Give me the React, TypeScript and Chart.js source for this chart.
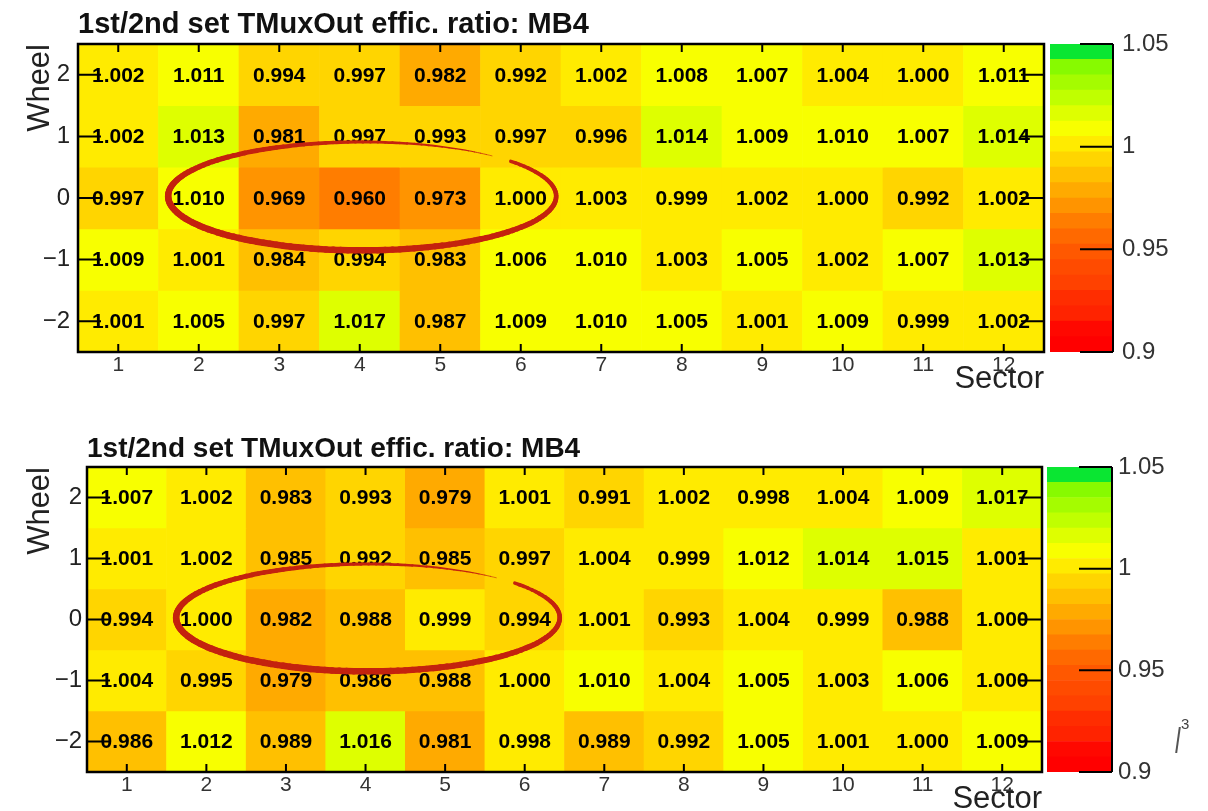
import React, { useEffect, useRef } from 'react';
import { Chart, registerables } from 'chart.js';

Chart.register(...registerables);

const FONT = '"Liberation Sans", Arial, Helvetica, sans-serif';

// ---------- data ----------
const SECTORS = ['1', '2', '3', '4', '5', '6', '7', '8', '9', '10', '11', '12'];
const WHEELS = [2, 1, 0, -1, -2];
const TITLE = '1st/2nd set TMuxOut effic. ratio: MB4';
const X_TITLE = 'Sector';
const Y_TITLE = 'Wheel';

// top panel, one array per wheel (2, 1, 0, -1, -2), sectors 1..12
const TOP_W2 = [1.002, 1.011, 0.994, 0.997, 0.982, 0.992, 1.002, 1.008, 1.007, 1.004, 1.0, 1.011];
const TOP_W1 = [1.002, 1.013, 0.981, 0.997, 0.993, 0.997, 0.996, 1.014, 1.009, 1.01, 1.007, 1.014];
const TOP_W0 = [0.997, 1.01, 0.969, 0.96, 0.973, 1.0, 1.003, 0.999, 1.002, 1.0, 0.992, 1.002];
const TOP_WM1 = [1.009, 1.001, 0.984, 0.994, 0.983, 1.006, 1.01, 1.003, 1.005, 1.002, 1.007, 1.013];
const TOP_WM2 = [1.001, 1.005, 0.997, 1.017, 0.987, 1.009, 1.01, 1.005, 1.001, 1.009, 0.999, 1.002];

// bottom panel
const BOT_W2 = [1.007, 1.002, 0.983, 0.993, 0.979, 1.001, 0.991, 1.002, 0.998, 1.004, 1.009, 1.017];
const BOT_W1 = [1.001, 1.002, 0.985, 0.992, 0.985, 0.997, 1.004, 0.999, 1.012, 1.014, 1.015, 1.001];
const BOT_W0 = [0.994, 1.0, 0.982, 0.988, 0.999, 0.994, 1.001, 0.993, 1.004, 0.999, 0.988, 1.0];
const BOT_WM1 = [1.004, 0.995, 0.979, 0.986, 0.988, 1.0, 1.01, 1.004, 1.005, 1.003, 1.006, 1.0];
const BOT_WM2 = [0.986, 1.012, 0.989, 1.016, 0.981, 0.998, 0.989, 0.992, 1.005, 1.001, 1.0, 1.009];

const TOP_VALUES = [TOP_W2, TOP_W1, TOP_W0, TOP_WM1, TOP_WM2];
const BOT_VALUES = [BOT_W2, BOT_W1, BOT_W0, BOT_WM1, BOT_WM2];

// colour contours (z axis)
const CONTOUR_LEVELS = [
  0.9, 0.9075, 0.915, 0.9225, 0.93, 0.9375, 0.945, 0.9525, 0.96, 0.9675, 0.975,
  0.9825, 0.99, 0.9975, 1.005, 1.0125, 1.02, 1.0275, 1.035, 1.0425, 1.05,
];
const PALETTE = [
  'rgb(255,0,0)', 'rgb(255,8,0)', 'rgb(255,35,0)', 'rgb(255,45,0)', 'rgb(255,65,0)',
  'rgb(255,75,0)', 'rgb(255,88,0)', 'rgb(255,105,0)', 'rgb(255,125,0)', 'rgb(255,148,0)',
  'rgb(255,170,0)', 'rgb(255,192,0)', 'rgb(255,213,0)', 'rgb(255,235,0)', 'rgb(248,255,0)',
  'rgb(222,255,0)', 'rgb(192,255,0)', 'rgb(165,252,0)', 'rgb(135,250,0)', 'rgb(10,230,50)',
];
const COLORBAR_TICKS = [0.9, 0.95, 1, 1.05];

// annotation ellipse, in data units (sector, wheel)
const ELLIPSE = { sector: 4.03, wheel: 0.03, halfSectors: 2.41, halfWheels: 0.88 };

// ---------- helpers ----------
function colorFor(v: number): string {
  const n = PALETTE.length;
  for (let i = 0; i < n; i++) {
    if (v < CONTOUR_LEVELS[i + 1]) return PALETTE[Math.max(i, 0)];
  }
  return PALETTE[n - 1];
}

function wheelLabel(v: number): string {
  return v < 0 ? '\u2212' + Math.abs(v) : String(v);
}

type PanelCfg = {
  top: number;
  height: number;
  plotLeft: number;
  plotRight: number;
  plotTopOff: number;
  plotBottomOff: number;
  titleSize: number;
  titleMidOff: number;
  yTickPad: number;
  cbLeft: number;
  cbRight: number;
  cbPad: number;
};

const TOP_CFG: PanelCfg = {
  top: 0, height: 410, plotLeft: 78, plotRight: 1044, plotTopOff: 44, plotBottomOff: 352,
  titleSize: 29, titleMidOff: 25, yTickPad: 8, cbLeft: 1050, cbRight: 1113, cbPad: 9,
};
const BOT_CFG: PanelCfg = {
  top: 410, height: 410, plotLeft: 87, plotRight: 1042, plotTopOff: 57, plotBottomOff: 362,
  titleSize: 28, titleMidOff: 39, yTickPad: 5, cbLeft: 1047, cbRight: 1112, cbPad: 6,
};

const X_AXIS_H = 43;

const widthProfile = [
  [0, 3.5], [0.15, 5], [0.37, 6.5], [0.62, 6.5], [0.8, 4.5], [0.9, 2.8], [0.97, 1.2], [1, 0.5],
];
function profile(t: number): number {
  for (let i = 0; i < widthProfile.length - 1; i++) {
    const [t0, w0] = widthProfile[i];
    const [t1, w1] = widthProfile[i + 1];
    if (t <= t1) return w0 + ((w1 - w0) * (t - t0)) / (t1 - t0);
  }
  return 0.5;
}

const heatDecor = {
  id: 'heatDecor',
  afterDatasetsDraw(chart: any) {
    const ctx: CanvasRenderingContext2D = chart.ctx;
    const { left, right, top, bottom } = chart.chartArea;
    const xs = chart.scales.x;
    const ys = chart.scales.y;
    ctx.save();
    // cell values
    ctx.font = 'bold 21px ' + FONT;
    ctx.fillStyle = '#000';
    ctx.textAlign = 'center';
    ctx.textBaseline = 'middle';
    chart.data.datasets.forEach((ds: any, di: number) => {
      const meta = chart.getDatasetMeta(di);
      meta.data.forEach((el: any, i: number) => {
        const v = ds.cellValues[i];
        ctx.fillText(v.toFixed(3), el.x, (el.y + el.base) / 2 + 1);
      });
    });
    // tick marks inside the frame
    ctx.strokeStyle = '#000';
    ctx.lineWidth = 2;
    ctx.beginPath();
    xs.ticks.forEach((_t: any, i: number) => {
      const px = xs.getPixelForTick(i);
      ctx.moveTo(px, top);
      ctx.lineTo(px, top + 8);
      ctx.moveTo(px, bottom);
      ctx.lineTo(px, bottom - 8);
    });
    ys.ticks.forEach((_t: any, i: number) => {
      const py = ys.getPixelForTick(i);
      ctx.moveTo(left, py);
      ctx.lineTo(left + 23, py);
      ctx.moveTo(right - 23, py);
      ctx.lineTo(right, py);
    });
    ctx.stroke();
    ctx.lineWidth = 2.5;
    ctx.strokeRect(left, top, right - left, bottom - top);

    // hand-drawn ellipse
    const cx = xs.getPixelForValue(ELLIPSE.sector - 1);
    const rx = Math.abs(xs.getPixelForValue(ELLIPSE.sector - 1 + ELLIPSE.halfSectors) - cx);
    const cy = ys.getPixelForValue(ELLIPSE.wheel);
    const ry = Math.abs(ys.getPixelForValue(ELLIPSE.wheel + ELLIPSE.halfWheels) - cy);
    const a0 = (-40 * Math.PI) / 180;
    const a1 = (312 * Math.PI) / 180;
    const N = 160;
    ctx.strokeStyle = 'rgb(196,34,14)';
    ctx.lineCap = 'round';
    for (let i = 0; i < N; i++) {
      const t = i / N;
      const s = a0 + (a1 - a0) * t;
      const e = a0 + (a1 - a0) * ((i + 1) / N);
      ctx.lineWidth = profile(t + 0.5 / N);
      ctx.beginPath();
      ctx.ellipse(cx, cy, rx, ry, 0, s, e);
      ctx.stroke();
    }
    ctx.restore();
  },
};

const cbDecor = {
  id: 'cbDecor',
  afterDatasetsDraw(chart: any) {
    const ctx: CanvasRenderingContext2D = chart.ctx;
    const { right, top, bottom } = chart.chartArea;
    const ys = chart.scales.y;
    ctx.save();
    ctx.strokeStyle = '#000';
    ctx.lineWidth = 2;
    ctx.beginPath();
    ctx.moveTo(right, top);
    ctx.lineTo(right, bottom);
    ys.ticks.forEach((_t: any, i: number) => {
      const py = ys.getPixelForTick(i);
      ctx.moveTo(right - 33, py);
      ctx.lineTo(right, py);
    });
    ctx.stroke();
    ctx.restore();
  },
};

function Heatmap({ values, cfg }: { values: number[][]; cfg: PanelCfg }) {
  const ref = useRef<HTMLCanvasElement>(null);
  const width = cfg.plotRight + 6;
  useEffect(() => {
    if (!ref.current) return;
    const lh = cfg.titleSize;
    const chart = new Chart(ref.current, {
      type: 'bar',
      data: {
        labels: SECTORS,
        datasets: WHEELS.map((w, r) => ({
          label: 'Wheel ' + w,
          data: SECTORS.map(() => [w - 0.5, w + 0.5]),
          backgroundColor: values[r].map(colorFor),
          borderWidth: 0,
          grouped: false,
          barPercentage: 1,
          categoryPercentage: 1,
          cellValues: values[r],
        })) as any,
      },
      options: {
        responsive: false,
        animation: false,
        events: [],
        layout: {
          padding: { left: 0, right: 6, top: 0, bottom: cfg.height - cfg.plotBottomOff - X_AXIS_H },
        },
        plugins: {
          legend: { display: false },
          tooltip: { enabled: false },
          title: {
            display: true,
            text: TITLE,
            align: 'start',
            fullSize: false,
            color: '#111',
            font: { family: FONT, size: cfg.titleSize, weight: 'bold', lineHeight: 1 },
            padding: {
              top: cfg.titleMidOff - lh / 2,
              bottom: cfg.plotTopOff - cfg.titleMidOff - lh / 2,
            },
          },
        },
        scales: {
          x: {
            type: 'category',
            offset: true,
            grid: { display: false, drawTicks: false },
            border: { display: false },
            ticks: {
              font: { family: FONT, size: 21, lineHeight: 1 },
              color: '#333',
              padding: 3,
              maxRotation: 0,
              autoSkip: false,
            },
            title: {
              display: true,
              text: X_TITLE,
              align: 'end',
              color: '#222',
              font: { family: FONT, size: 31, lineHeight: 1 },
              padding: 0,
            },
            afterFit: (s: any) => {
              s.height = X_AXIS_H;
            },
          },
          y: {
            type: 'linear',
            min: -2.5,
            max: 2.5,
            afterBuildTicks: (s: any) => {
              s.ticks = WHEELS.map((v) => ({ value: v }));
            },
            grid: { display: false, drawTicks: false },
            border: { display: false },
            ticks: {
              font: { family: FONT, size: 24, lineHeight: 1 },
              color: '#222',
              padding: cfg.yTickPad,
              callback: (v: any) => wheelLabel(Number(v)),
            },
            title: {
              display: true,
              text: Y_TITLE,
              align: 'end',
              color: '#222',
              font: { family: FONT, size: 31, lineHeight: 1 },
              padding: { top: 24.5, bottom: 0 },
            },
            afterFit: (s: any) => {
              s.width = cfg.plotLeft;
            },
          },
        },
      } as any,
      plugins: [heatDecor],
    });
    return () => chart.destroy();
  }, []);
  return (
    <canvas
      ref={ref}
      width={width}
      height={cfg.height}
      style={{ position: 'absolute', left: 0, top: cfg.top, width, height: cfg.height }}
    />
  );
}

function ColorBar({ cfg }: { cfg: PanelCfg }) {
  const ref = useRef<HTMLCanvasElement>(null);
  const left = cfg.cbLeft - 10;
  const width = 1208 - left;
  useEffect(() => {
    if (!ref.current) return;
    const chart = new Chart(ref.current, {
      type: 'bar',
      data: {
        labels: [''],
        datasets: PALETTE.map((c, i) => ({
          label: 'band ' + i,
          data: [[CONTOUR_LEVELS[i], CONTOUR_LEVELS[i + 1]]],
          backgroundColor: c,
          borderWidth: 0,
          grouped: false,
          barPercentage: 1,
          categoryPercentage: 1,
        })) as any,
      },
      options: {
        responsive: false,
        animation: false,
        events: [],
        layout: {
          padding: { left: 10, right: 0, top: cfg.plotTopOff, bottom: cfg.height - cfg.plotBottomOff },
        },
        plugins: { legend: { display: false }, tooltip: { enabled: false } },
        scales: {
          x: { display: false, offset: true },
          y: {
            position: 'right',
            min: CONTOUR_LEVELS[0],
            max: CONTOUR_LEVELS[CONTOUR_LEVELS.length - 1],
            afterBuildTicks: (s: any) => {
              s.ticks = COLORBAR_TICKS.map((v) => ({ value: v }));
            },
            grid: { display: false, drawTicks: false },
            border: { display: false },
            ticks: {
              font: { family: FONT, size: 24, lineHeight: 1 },
              color: '#333',
              padding: cfg.cbPad,
              callback: (v: any) => String(Number(v)),
            },
            afterFit: (s: any) => {
              s.width = 1208 - cfg.cbRight;
            },
          },
        },
      } as any,
      plugins: [cbDecor],
    });
    return () => chart.destroy();
  }, []);
  return (
    <canvas
      ref={ref}
      width={width}
      height={cfg.height}
      style={{ position: 'absolute', left, top: cfg.top, width, height: cfg.height }}
    />
  );
}

export default function App() {
  return (
    <div
      style={{
        position: 'absolute',
        left: 0,
        top: 0,
        width: 1208,
        height: 811,
        overflow: 'hidden',
        background: '#fff',
      }}
    >
      <Heatmap values={TOP_VALUES} cfg={TOP_CFG} />
      <ColorBar cfg={TOP_CFG} />
      <Heatmap values={BOT_VALUES} cfg={BOT_CFG} />
      <ColorBar cfg={BOT_CFG} />
      <div
        style={{
          position: 'absolute',
          left: 1177,
          top: 727,
          width: 2,
          height: 26,
          background: '#555',
          transform: 'skewX(-8deg)',
        }}
      />
      <span
        style={{
          position: 'absolute',
          left: 1181,
          top: 716,
          fontSize: 15,
          lineHeight: '16px',
          fontFamily: FONT,
          color: '#444',
        }}
      >
        3
      </span>
    </div>
  );
}
